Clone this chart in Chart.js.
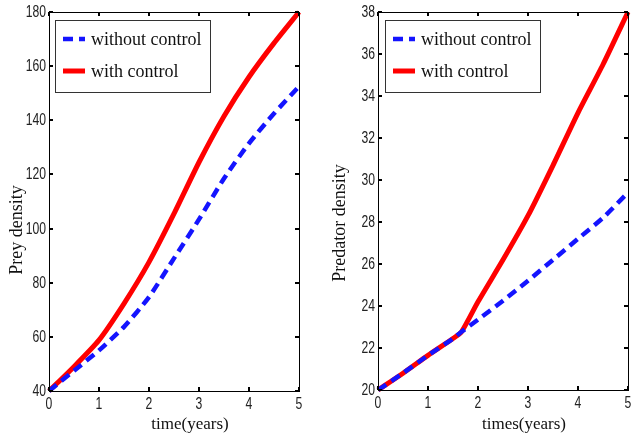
<!DOCTYPE html>
<html>
<head>
<meta charset="utf-8">
<script src="https://cdn.jsdelivr.net/npm/chart.js@4.4.1/dist/chart.umd.min.js"></script>
<style>
  body { margin: 0; background: #fff; }
  #wrap { position: relative; width: 639px; height: 438px; }
  canvas { position: absolute; top: 0; }
</style>
</head>
<body>
<div id="wrap">
  <canvas id="prey" width="320" height="438" style="left:0"></canvas>
  <canvas id="pred" width="319" height="438" style="left:320px"></canvas>
</div>
<script>
// time points (years)
const preyTimes = [0, 0.5, 1, 1.5, 2, 2.5, 3, 3.5, 4, 4.5, 5];
const preyWithout = [40, 47.5, 55, 63.7, 74.7, 89, 103.4, 118.5, 131.5, 142.5, 152.5];
const preyWith = [40, 49, 58.8, 72.3, 87.6, 105.5, 124.5, 141.5, 156, 168.5, 180];

const predTimes = [0, 0.5, 1, 1.5, 1.67, 2, 2.5, 3, 3.5, 4, 4.5, 5];
const predWithout = [20, 20.8, 21.65, 22.45, 22.77, 23.35, 24.25, 25.2, 26.2, 27.2, 28.2, 29.4];
const predWith = [20, 20.8, 21.65, 22.45, 22.77, 24.2, 26.2, 28.3, 30.7, 33.2, 35.5, 38];

const legendLabels = ['without control', 'with control'];

const BLUE = 'rgb(20,20,255)';
const RED = 'rgb(255,0,0)';
const sans = '"Liberation Sans", Arial, sans-serif';
const serif = '"Liberation Serif", "Times New Roman", serif';

function pts(xs, ys) {
  return xs.map((x, i) => ({ x: x, y: ys[i] }));
}

// narrow tick label (MATLAB export uses a condensed face)
function narrowText(ctx, txt, x, y, align) {
  ctx.save();
  ctx.translate(x, y);
  ctx.scale(0.76, 1);
  ctx.textAlign = align;
  ctx.fillText(txt, 0, 0);
  ctx.restore();
}

// box, inward ticks, tick labels, axis titles and legend
const matlabBox = {
  id: 'matlabBox',
  afterDatasetsDraw(chart, args, opts) {
    const { ctx, chartArea: a, scales } = chart;
    ctx.save();
    ctx.strokeStyle = '#000';
    ctx.lineWidth = 1;
    ctx.setLineDash([]);
    ctx.strokeRect(a.left + 0.5, a.top + 0.5, a.right - a.left, a.bottom - a.top);

    ctx.fillStyle = '#222';
    ctx.font = '16px ' + sans;
    ctx.textBaseline = 'middle';
    scales.x.ticks.forEach(t => {
      const px = Math.round(scales.x.getPixelForValue(t.value));
      ctx.lineWidth = 2;
      ctx.beginPath();
      ctx.moveTo(px, a.bottom); ctx.lineTo(px, a.bottom - 4);
      ctx.moveTo(px, a.top); ctx.lineTo(px, a.top + 4);
      ctx.stroke();
      narrowText(ctx, String(t.value), px, a.bottom + 14, 'center');
    });
    scales.y.ticks.forEach(t => {
      const py = Math.round(scales.y.getPixelForValue(t.value));
      ctx.lineWidth = 2;
      ctx.beginPath();
      ctx.moveTo(a.left, py); ctx.lineTo(a.left + 4, py);
      ctx.moveTo(a.right, py); ctx.lineTo(a.right - 4, py);
      ctx.stroke();
      narrowText(ctx, String(t.value), a.left - 3, py + 1, 'right');
    });

    // axis titles
    ctx.fillStyle = '#111';
    ctx.textAlign = 'center';
    ctx.font = '17px ' + serif;
    ctx.fillText(opts.xTitle, opts.xTitleX, 425);
    ctx.save();
    ctx.translate(opts.yTitleX, opts.yTitleY);
    ctx.rotate(-Math.PI / 2);
    ctx.font = '18px ' + serif;
    ctx.fillText(opts.yTitle, 0, 0);
    ctx.restore();

    // legend
    const L = opts.legend;
    ctx.lineWidth = 1;
    ctx.strokeStyle = '#333';
    ctx.fillStyle = '#fff';
    ctx.fillRect(L.x, L.y, L.w, L.h);
    ctx.strokeRect(L.x + 0.5, L.y + 0.5, L.w, L.h);
    chart.data.datasets.forEach((ds, i) => {
      const yy = L.y + 19 + i * 32;
      ctx.strokeStyle = ds.borderColor;
      ctx.lineWidth = ds.borderWidth;
      ctx.setLineDash(ds.borderDash || []);
      ctx.beginPath();
      ctx.moveTo(L.x + 8, yy); ctx.lineTo(L.x + 30, yy);
      ctx.stroke();
      ctx.setLineDash([]);
      ctx.fillStyle = '#111';
      ctx.textAlign = 'left';
      ctx.font = '18px ' + serif;
      ctx.fillText(legendLabels[i], L.x + 36, yy + 1);
    });
    ctx.restore();
  }
};

function makeChart(id, xs, without, withC, yMin, yMax, yStep, cfg) {
  return new Chart(document.getElementById(id), {
    type: 'line',
    data: {
      datasets: [
        {
          label: legendLabels[0],
          data: pts(xs, without),
          borderColor: BLUE,
          borderWidth: 4.5,
          borderDash: [10, 6],
          pointRadius: 0,
          tension: 0.2,
          clip: false
        },
        {
          label: legendLabels[1],
          data: pts(xs, withC),
          borderColor: RED,
          borderWidth: 5,
          pointRadius: 0,
          tension: 0.2,
          clip: false
        }
      ]
    },
    options: {
      responsive: false,
      animation: false,
      layout: { padding: { top: cfg.top, right: cfg.right, left: 0, bottom: 0 } },
      plugins: {
        legend: { display: false },
        tooltip: { enabled: false },
        matlabBox: cfg
      },
      scales: {
        x: {
          type: 'linear',
          min: 0,
          max: 5,
          ticks: { stepSize: 1, display: false },
          grid: { display: false, drawTicks: false },
          border: { display: true, color: '#000' },
          afterFit: s => { s.height = cfg.xH; }
        },
        y: {
          min: yMin,
          max: yMax,
          ticks: { stepSize: yStep, display: false },
          grid: { display: false, drawTicks: false },
          border: { display: true, color: '#000' },
          afterFit: s => { s.width = cfg.yW; }
        }
      }
    },
    plugins: [matlabBox]
  });
}

makeChart('prey', preyTimes, preyWithout, preyWith, 40, 180, 20, {
  top: 12, right: 21, xH: 47, yW: 49,
  xTitle: 'time(years)', xTitleX: 190,
  yTitle: 'Prey density', yTitleX: 17, yTitleY: 230,
  legend: { x: 55, y: 20, w: 155, h: 72 }
});

makeChart('pred', predTimes, predWithout, predWith, 20, 38, 2, {
  top: 12, right: 11, xH: 48, yW: 58,
  xTitle: 'times(years)', xTitleX: 204,
  yTitle: 'Predator density', yTitleX: 20, yTitleY: 223,
  legend: { x: 65, y: 20, w: 155, h: 72 }
});
</script>
</body>
</html>
